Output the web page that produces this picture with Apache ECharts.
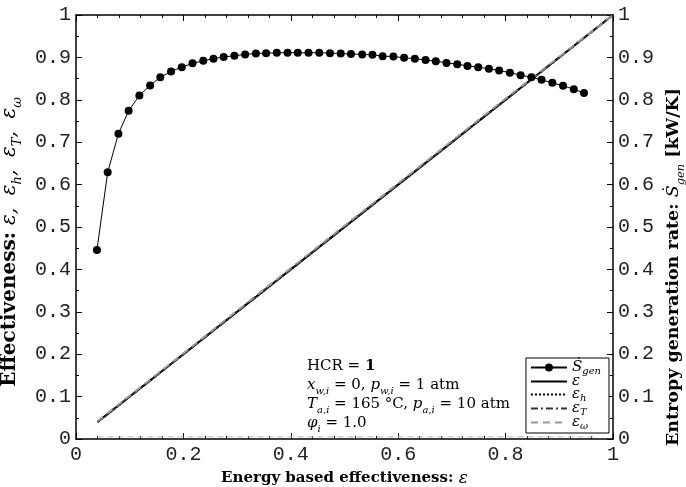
<!DOCTYPE html>
<html>
<head>
<meta charset="utf-8">
<script src="https://cdn.jsdelivr.net/npm/echarts@6/dist/echarts.min.js"></script>
<style>
html, body { margin: 0; padding: 0; background: #fff; }
#chart { width: 686px; height: 487px; }
</style>
</head>
<body>
<div id="chart"></div>
<script>
// entropy generation rate
const sGenX = [0.039, 0.059, 0.079, 0.098, 0.118, 0.138, 0.157, 0.177, 0.197, 0.217,
  0.237, 0.256, 0.275, 0.295, 0.315, 0.335, 0.354, 0.374, 0.394, 0.413,
  0.433, 0.453, 0.473, 0.493, 0.512, 0.533, 0.552, 0.571, 0.591, 0.611,
  0.631, 0.651, 0.670, 0.690, 0.710, 0.729, 0.749, 0.769, 0.788, 0.808,
  0.828, 0.848, 0.867, 0.887, 0.907, 0.927, 0.946];
const sGen = [0.446, 0.629, 0.720, 0.774, 0.810, 0.834, 0.853, 0.867, 0.877, 0.886,
  0.892, 0.897, 0.901, 0.904, 0.907, 0.909, 0.910, 0.911, 0.911, 0.911,
  0.911, 0.911, 0.910, 0.909, 0.908, 0.907, 0.906, 0.903, 0.902, 0.899,
  0.897, 0.894, 0.891, 0.887, 0.884, 0.880, 0.877, 0.873, 0.869, 0.864,
  0.858, 0.853, 0.847, 0.840, 0.833, 0.825, 0.816];

// effectiveness curves (all on the diagonal)
const effX = [0.04, 0.2, 0.4, 0.6, 0.8, 1.0];
const eps = [0.04, 0.2, 0.4, 0.6, 0.8, 1.0];
const epsH = [0.04, 0.2, 0.4, 0.6, 0.8, 1.0];
const epsT = [0.04, 0.2, 0.4, 0.6, 0.8, 1.0];
const epsW = [0.042, 0.202, 0.403, 0.603, 0.803, 1.0];

// faint dashed trace along the bottom
const baseX = [0.04, 0.97];
const baseVals = [0.005, 0.005];

const serif = 'DejaVu Serif';
const mono = 'Liberation Mono';

const pair = (xs, ys) => xs.map((x, i) => [x, ys[i]]);

const chart = echarts.init(document.getElementById('chart'));

const legendRich = {
  i: { fontFamily: serif, fontStyle: 'italic', fontSize: 15, color: '#000', lineHeight: 13 },
  s: { fontFamily: serif, fontStyle: 'italic', fontSize: 10, color: '#000', verticalAlign: 'bottom', lineHeight: 13, padding: [0, 0, -2, 0] }
};

const legendNames = {
  Sgen: '{i|Ṡ}{s|gen}',
  eps: '{i|ε}',
  epsH: '{i|ε}{s|h}',
  epsT: '{i|ε}{s|T}',
  epsW: '{i|ε}{s|ω}'
};

const titleRich = (size) => ({
  b: { fontFamily: serif, fontWeight: 'bold', fontSize: size, color: '#000' },
  i: { fontFamily: serif, fontStyle: 'italic', fontSize: size, color: '#000' },
  s: { fontFamily: serif, fontStyle: 'italic', fontSize: size * 0.65, color: '#000', verticalAlign: 'bottom', lineHeight: size * 1.4 }
});

const valueAxis = (extra) => Object.assign({
  type: 'value',
  min: 0,
  max: 1,
  axisLine: { show: true, onZero: false, lineStyle: { color: '#000', width: 1.5 } },
  axisTick: { show: true, inside: true, length: 6, lineStyle: { color: '#000' } },
  splitLine: { show: false },
  axisLabel: { fontFamily: mono, fontSize: 20, color: '#222', margin: 5 }
}, extra);

const annot = [
  '{n|HCR = }{b|1}',
  '{i|x}{s|w,i}{n| = 0, }{i|p}{s|w,i}{n| = 1 atm}',
  '{i|T}{s|a,i}{n| = 165 °C, }{i|p}{s|a,i}{n| = 10 atm}',
  '{i|φ}{s|i}{n| = 1.0}'
];
const annotY = [368, 387, 406, 425];
const annotRich = {
  n: { fontFamily: serif, fontSize: 15, fill: '#000', lineHeight: 18 },
  b: { fontFamily: serif, fontSize: 15, fontWeight: 'bold', fill: '#000', lineHeight: 18 },
  i: { fontFamily: serif, fontSize: 15, fontStyle: 'italic', fill: '#000', lineHeight: 18 },
  s: { fontFamily: serif, fontSize: 10, fontStyle: 'italic', fill: '#000', verticalAlign: 'bottom', lineHeight: 18, padding: [0, 0, -2, 0] }
};

const option = {
  animation: false,
  backgroundColor: '#fff',
  grid: { left: 76, right: 73, top: 15, bottom: 48, outerBoundsMode: 'none', containLabel: false },
  xAxis: [
    valueAxis({
      position: 'bottom',
      interval: 0.2,
      minorTick: { show: true, splitNumber: 5, length: 3, lineStyle: { color: '#000' } },
      axisLabel: { fontFamily: mono, fontSize: 20, color: '#222', margin: 6 },
      name: '{b|Energy based effectiveness: }{i|ε}',
      nameLocation: 'middle',
      nameGap: 31,
      nameTextStyle: {
        rich: {
          b: { fontFamily: serif, fontWeight: 'bold', fontSize: 15, color: '#000' },
          i: { fontFamily: serif, fontStyle: 'italic', fontSize: 17, color: '#000' }
        }
      }
    }),
    valueAxis({
      position: 'top',
      interval: 0.2,
      minorTick: { show: true, splitNumber: 5, length: 3, lineStyle: { color: '#000' } },
      axisLabel: { show: false }
    })
  ],
  yAxis: [
    valueAxis({
      position: 'left',
      interval: 0.1,
      minorTick: { show: true, splitNumber: 2, length: 3, lineStyle: { color: '#000' } },
      name: '{b|Effectiveness: }{i|ε,  ε}{s|h}{i|,  ε}{s|T}{i|,  ε}{s|ω}',
      nameLocation: 'middle',
      nameGap: 44,
      nameTextStyle: { rich: titleRich(20), padding: [0, 30, 0, 0] }
    }),
    valueAxis({
      position: 'right',
      interval: 0.1,
      minorTick: { show: true, splitNumber: 2, length: 3, lineStyle: { color: '#000' } },
      name: '{b|Entropy generation rate: }{i|Ṡ}{s|gen}{b| [kW/K]}',
      nameLocation: 'middle',
      nameGap: 45,
      nameRotate: 90,
      nameTextStyle: { rich: titleRich(17.5), padding: [0, 80, 0, 0] }
    })
  ],
  legend: {
    orient: 'vertical',
    right: 77,
    bottom: 54,
    backgroundColor: '#fff',
    borderColor: '#000',
    borderWidth: 1,
    borderRadius: 0,
    padding: [2, 8, 2, 4],
    itemGap: -2,
    itemWidth: 36,
    itemHeight: 10,
    data: [
      { name: 'Sgen' },
      { name: 'eps', itemStyle: { opacity: 0 } },
      { name: 'epsH', itemStyle: { opacity: 0 } },
      { name: 'epsT', itemStyle: { opacity: 0 } },
      { name: 'epsW', itemStyle: { opacity: 0 } }
    ],
    formatter: name => legendNames[name],
    textStyle: { rich: legendRich, lineHeight: 13 }
  },
  series: [
    {
      name: 'base',
      type: 'line',
      data: pair(baseX, baseVals),
      symbol: 'none',
      lineStyle: { color: '#bbb', width: 1, type: [6, 4] },
      z: 1
    },
    {
      name: 'eps',
      type: 'line',
      data: pair(effX, eps),
      symbol: 'none',
      itemStyle: { color: '#000' },
      lineStyle: { color: '#000', width: 2, type: 'solid' }
    },
    {
      name: 'epsH',
      type: 'line',
      data: pair(effX, epsH),
      symbol: 'none',
      itemStyle: { color: '#000' },
      lineStyle: { color: '#000', width: 2, type: [2, 2] }
    },
    {
      name: 'epsT',
      type: 'line',
      data: pair(effX, epsT),
      symbol: 'none',
      itemStyle: { color: '#333' },
      lineStyle: { color: '#333', width: 2, type: [7, 3, 2, 3] }
    },
    {
      name: 'epsW',
      type: 'line',
      data: pair(effX, epsW),
      symbol: 'none',
      itemStyle: { color: '#999' },
      lineStyle: { color: '#999', width: 2, type: [7, 5] }
    },
    {
      name: 'Sgen',
      type: 'line',
      yAxisIndex: 1,
      data: pair(sGenX, sGen),
      symbol: 'circle',
      symbolSize: 8,
      itemStyle: { color: '#000' },
      lineStyle: { color: '#000', width: 1 }
    }
  ],
  graphic: annot.map((t, i) => ({
    type: 'text',
    left: 307,
    top: annotY[i] - 9,
    z: 10,
    style: { text: t, rich: annotRich, font: '15px ' + serif }
  }))
};

chart.setOption(option);
</script>
</body>
</html>
